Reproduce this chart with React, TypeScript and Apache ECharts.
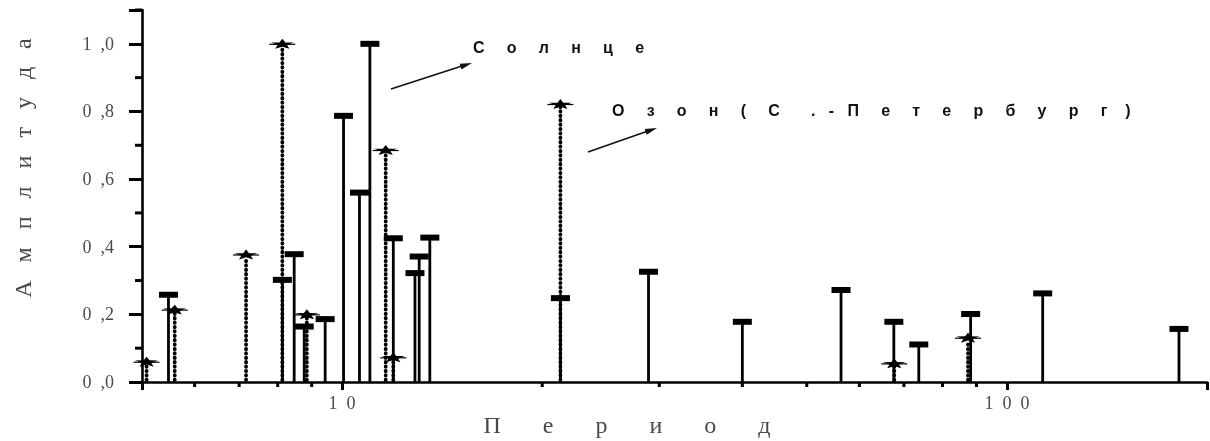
import React, { useEffect, useRef } from "react";
import * as echarts from "echarts";

// Солнце (solid stems with bar caps)
const solarPeriods = [5.48, 8.13, 8.47, 8.77, 9.43, 10.05, 10.62, 11.01, 11.94, 12.87, 13.06, 13.55, 21.3, 28.9, 40.0, 56.3, 67.6, 73.7, 88.2, 113.2, 181.5];
const solarAmps = [0.258, 0.302, 0.378, 0.164, 0.186, 0.787, 0.56, 1.0, 0.425, 0.322, 0.371, 0.427, 0.248, 0.326, 0.178, 0.272, 0.178, 0.111, 0.201, 0.262, 0.157];
// Озон (С.-Петербург) (dotted stems with stars)
const ozonePeriods = [5.08, 5.6, 7.17, 8.13, 8.85, 11.63, 11.94, 21.3, 67.7, 87.4];
const ozoneAmps = [0.06, 0.214, 0.377, 1.0, 0.2, 0.686, 0.073, 0.822, 0.055, 0.131];

const xMin = 5;
const xMax = 200;
const yMin = 0;
const yMax = 1.1;
const xLabelTicks = [10, 100];
const xMinorTicks = [6, 7, 8, 9, 20, 30, 40, 50, 60, 70, 80, 90];
const yMinorTicks = [0.1, 0.3, 0.5, 0.7, 0.9, 1.1];

const yTitle = "Амплитуда";
const xTitle = "Период";
const solarLabel = "Солнце";
const ozoneLabel = "Озон (С.-Петербург)";

const NB = "\u00a0";
const spaced = (s: string, n: number) => Array.from(s).join(NB.repeat(n));

const ozoneText =
  spaced("Озон", 5) + NB.repeat(5) + "(" + NB.repeat(5) + "С" + NB.repeat(7) + "." + NB.repeat(3) + "-" + NB.repeat(3) + spaced("Петербург", 5) + NB.repeat(4) + ")";

export default function App() {
  const ref = useRef<HTMLDivElement>(null);
  useEffect(() => {
    if (!ref.current) return;
    const chart = echarts.init(ref.current, null, { renderer: "svg" });
    const serif = "Liberation Serif";
    const labelColor = "#4a4a4a";

    const starPoints = (cx: number, cy: number, sx: number, sy: number) => {
      const pts: number[][] = [];
      for (let i = 0; i < 10; i++) {
        const r = i % 2 === 0 ? 1 : 0.42;
        const a = -Math.PI / 2 + (i * Math.PI) / 5;
        pts.push([cx + Math.cos(a) * r * sx, cy + Math.sin(a) * r * sy]);
      }
      return pts;
    };

    const option: any = {
      animation: false,
      grid: { left: 142, top: 10, width: 1069, height: 372 },
      xAxis: {
        type: "log",
        min: xMin,
        max: xMax,
        axisLine: { show: true, lineStyle: { color: "#000", width: 2.6 } },
        axisTick: { show: true, length: 8, lineStyle: { color: "#000", width: 3 } },
        axisLabel: {
          show: true,
          margin: 12,
          color: labelColor,
          fontFamily: serif,
          fontSize: 18,
          formatter: (v: number) => {
            const r = Math.round(v);
            return xLabelTicks.indexOf(r) >= 0 ? spaced(String(r), 2) : "";
          },
        },
        splitLine: { show: false },
      },
      yAxis: {
        type: "value",
        min: yMin,
        max: yMax,
        interval: 0.2,
        axisLine: { show: true, lineStyle: { color: "#000", width: 2.6 } },
        axisTick: { show: true, length: 13, lineStyle: { color: "#000", width: 3 } },
        axisLabel: {
          show: true,
          margin: 28,
          color: labelColor,
          fontFamily: serif,
          fontSize: 18,
          formatter: (v: number) => (v > 1.05 ? "" : v.toFixed(1).replace(".", NB + NB + ",")),
        },
        splitLine: { show: false },
      },
      series: [
        {
          name: ozoneLabel,
          type: "custom",
          coordinateSystem: "cartesian2d",
          data: ozonePeriods.map((p, i) => [p, ozoneAmps[i]]),
          encode: { x: 0, y: 1 },
          renderItem: (params: any, api: any) => {
            const x = api.value(0);
            const y = api.value(1);
            const base = api.coord([x, 0]);
            const top = api.coord([x, y]);
            return {
              type: "group",
              children: [
                {
                  type: "line",
                  shape: { x1: base[0], y1: base[1] - 2, x2: top[0], y2: top[1] + 3 },
                  style: { stroke: "#000", lineWidth: 3.8, lineCap: "round", lineDash: [0.4, 4.0] },
                },
                {
                  type: "line",
                  shape: { x1: top[0] - 13, y1: top[1] + 0.5, x2: top[0] + 13, y2: top[1] + 0.5 },
                  style: { stroke: "#000", lineWidth: 1.2 },
                },
                {
                  type: "polygon",
                  shape: { points: starPoints(top[0], top[1] + 0.5, 12, 5.5) },
                  style: { fill: "#000" },
                },
              ],
            };
          },
          z: 2,
        },
        {
          name: solarLabel,
          type: "custom",
          coordinateSystem: "cartesian2d",
          data: solarPeriods.map((p, i) => [p, solarAmps[i]]),
          encode: { x: 0, y: 1 },
          renderItem: (params: any, api: any) => {
            const x = api.value(0);
            const y = api.value(1);
            const base = api.coord([x, 0]);
            const top = api.coord([x, y]);
            return {
              type: "group",
              children: [
                {
                  type: "line",
                  shape: { x1: base[0], y1: base[1], x2: top[0], y2: top[1] },
                  style: { stroke: "#000", lineWidth: 2.8 },
                },
                {
                  type: "rect",
                  shape: { x: top[0] - 9.5, y: top[1] - 3, width: 19, height: 6 },
                  style: { fill: "#000" },
                },
              ],
            };
          },
          z: 3,
        },
      ],
    };
    chart.setOption(option);

    // minor ticks, positioned through the chart's own axis scales
    const g: any[] = [];
    xMinorTicks.forEach((v) => {
      const p = chart.convertToPixel({ gridIndex: 0 }, [v, yMin]) as any;
      if (p) g.push({ type: "line", shape: { x1: p[0], y1: p[1], x2: p[0], y2: p[1] + 5 }, style: { stroke: "#000", lineWidth: 3 } });
    });
    yMinorTicks.forEach((v) => {
      const p = chart.convertToPixel({ gridIndex: 0 }, [xMin, v]) as any;
      if (p) g.push({ type: "line", shape: { x1: p[0] - 7, y1: p[1], x2: p[0], y2: p[1] }, style: { stroke: "#000", lineWidth: 3 } });
    });

    g.push(
      {
        type: "text",
        x: 23,
        y: 168,
        rotation: Math.PI / 2,
        style: { text: spaced(yTitle, 3), font: `24px "${serif}"`, fill: labelColor, align: "center", verticalAlign: "middle" },
      },
      {
        type: "text",
        x: 627,
        y: 425,
        style: { text: spaced(xTitle, 7), font: `24px "${serif}"`, fill: labelColor, align: "center", verticalAlign: "middle" },
      },
      {
        type: "text",
        x: 473,
        y: 47,
        style: { text: spaced(solarLabel, 5), font: `bold 16px "Liberation Sans"`, fill: "#111", align: "left", verticalAlign: "middle" },
      },
      {
        type: "text",
        x: 612,
        y: 110,
        style: { text: ozoneText, font: `bold 16px "Liberation Sans"`, fill: "#111", align: "left", verticalAlign: "middle" },
      },
      { type: "line", shape: { x1: 391, y1: 89, x2: 462, y2: 66 }, style: { stroke: "#111", lineWidth: 1.6 } },
      { type: "polygon", shape: { points: [[472, 63], [461.5, 69.4], [459.7, 63.8]] }, style: { fill: "#111" } },
      { type: "line", shape: { x1: 588, y1: 152, x2: 648, y2: 131 }, style: { stroke: "#111", lineWidth: 1.6 } },
      { type: "polygon", shape: { points: [[657, 128], [646.7, 134.7], [644.7, 129.1]] }, style: { fill: "#111" } }
    );
    chart.setOption({ graphic: g });
    return () => chart.dispose();
  }, []);
  return <div ref={ref} style={{ position: "fixed", left: 0, top: 0, width: 1210, height: 441 }} />;
}
